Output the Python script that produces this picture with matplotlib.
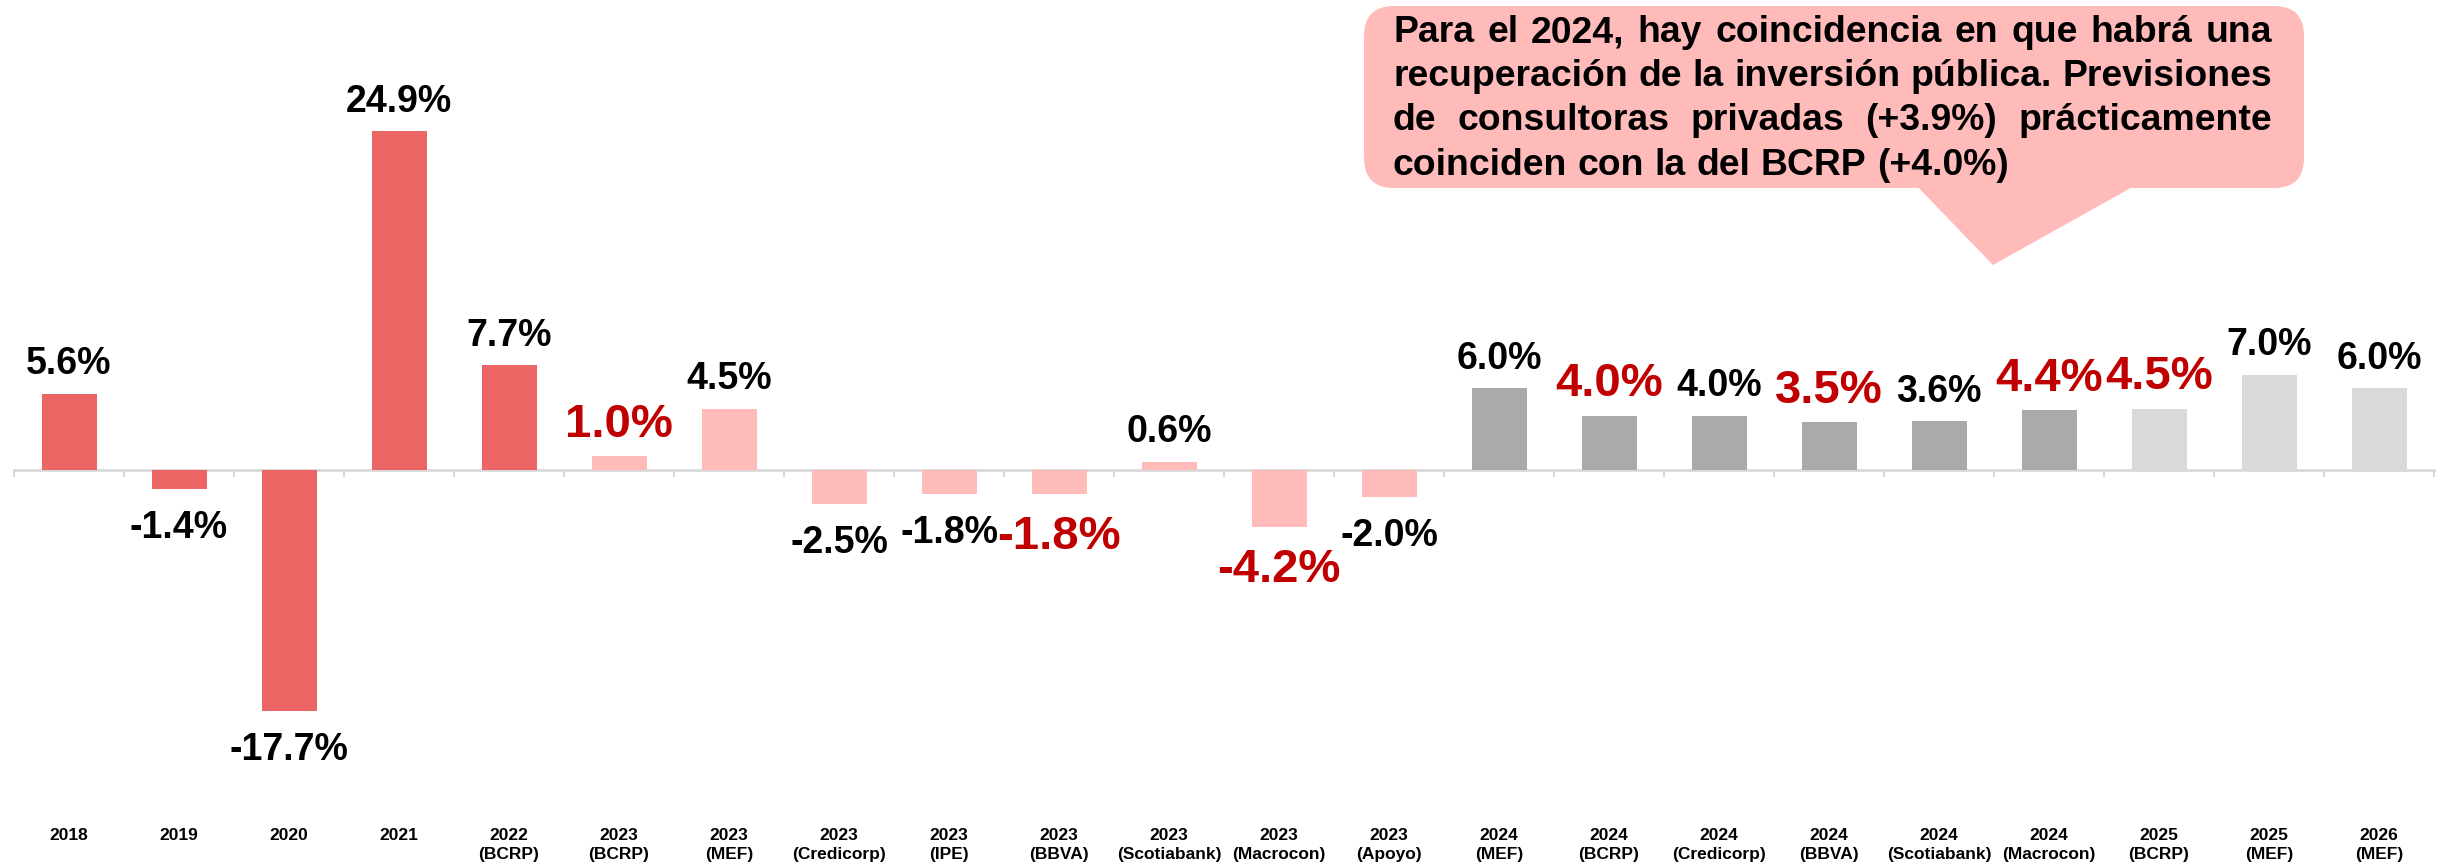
import matplotlib.pyplot as plt
from matplotlib.patches import FancyBboxPatch, Polygon
from matplotlib.transforms import blended_transform_factory

plt.rcParams['font.family'] = ['Liberation Sans', 'DejaVu Sans']
plt.rcParams['font.weight'] = 'bold'

# data
categories = ['2018', '2019', '2020', '2021', '2022\n(BCRP)',
              '2023\n(BCRP)', '2023\n(MEF)', '2023\n(Credicorp)', '2023\n(IPE)',
              '2023\n(BBVA)', '2023\n(Scotiabank)', '2023\n(Macrocon)', '2023\n(Apoyo)',
              '2024\n(MEF)', '2024\n(BCRP)', '2024\n(Credicorp)', '2024\n(BBVA)',
              '2024\n(Scotiabank)', '2024\n(Macrocon)',
              '2025\n(BCRP)', '2025\n(MEF)', '2026\n(MEF)']
values = [5.6, -1.4, -17.7, 24.9, 7.7,
          1.0, 4.5, -2.5, -1.8, -1.8, 0.6, -4.2, -2.0,
          6.0, 4.0, 4.0, 3.5, 3.6, 4.4,
          4.5, 7.0, 6.0]
groups = ['real'] * 5 + ['2023'] * 8 + ['2024'] * 6 + ['later'] * 3
highlighted = [5, 9, 11, 14, 16, 18, 19]   # labels shown in red

note_lines = ['Para el 2024, hay coincidencia en que habrá una',
              'recuperación de la inversión pública. Previsiones',
              'de consultoras privadas (+3.9%) prácticamente',
              'coinciden con la del BCRP (+4.0%)']

group_colors = {'real': '#EB6565', '2023': '#FFBABA', '2024': '#AAAAAA', 'later': '#D9D9D9'}

W, H = 2447, 866
fig = plt.figure(figsize=(W / 100, H / 100), dpi=100)

# axes placed so that zero sits at ~470px and 1% ~ 13.6px
ymin, ymax = -22, 30
zero_px, ppu = 470, 13.6
top_px = zero_px - ymax * ppu
bot_px = zero_px - ymin * ppu
ax = fig.add_axes([14 / W, 1 - bot_px / H, (2434 - 14) / W, (bot_px - top_px) / H])

x = list(range(len(values)))
ax.bar(x, values, width=0.5, color=[group_colors[g] for g in groups], zorder=3)
ax.set_xlim(-0.5, len(values) - 0.5)
ax.set_ylim(ymin, ymax)

for s in ['top', 'right', 'left']:
    ax.spines[s].set_visible(False)
ax.spines['bottom'].set_position(('data', 0))
ax.spines['bottom'].set_color('#D9D9D9')
ax.spines['bottom'].set_linewidth(2)
ax.set_yticks([])
ax.set_xticks([])
ax.set_xticks([i - 0.5 for i in range(len(values) + 1)], minor=True)
ax.tick_params(axis='x', which='minor', length=5, width=1.5, color='#D9D9D9', labelbottom=False)

for i, v in enumerate(values):
    red = i in highlighted
    size = 34 if red else 27
    col = '#C00000' if red else 'black'
    if v >= 0:
        ax.annotate(f'{v:.1f}%', (i, v), xytext=(0, 14), textcoords='offset points',
                    ha='center', va='baseline', fontsize=size, color=col, fontweight='bold')
    else:
        ax.annotate(f'{v:.1f}%', (i, v), xytext=(0, -15), textcoords='offset points',
                    ha='center', va='top', fontsize=size, color=col, fontweight='bold')

trans = blended_transform_factory(ax.transData, fig.transFigure)
for i, c in enumerate(categories):
    ax.text(i, 1 - 828 / H, c, transform=trans, ha='center', va='top',
            fontsize=12.5, linespacing=1.3, fontweight='bold')

# callout bubble (inches, 1in = 100px)
inch = fig.dpi_scale_trans
bx0, by0, bx1, by1 = 1364, 6, 2304, 188
box = FancyBboxPatch((bx0 / 100, (H - by1) / 100), (bx1 - bx0) / 100, (by1 - by0) / 100,
                     boxstyle='round,pad=0,rounding_size=0.3', transform=inch,
                     facecolor='#FFBABA', edgecolor='none')
fig.add_artist(box)
tail = Polygon([(1911 / 100, (H - 180) / 100), (2145 / 100, (H - 180) / 100),
                (1993 / 100, (H - 265) / 100)], closed=True, transform=inch,
               facecolor='#FFBABA', edgecolor='none')
fig.add_artist(tail)

# justified text inside the bubble; size chosen so line 2 fits naturally
renderer = fig.canvas.get_renderer()
tx0, tx1 = 1393, 2272
probe = fig.text(0, 0, note_lines[1], fontsize=20, fontweight='bold')
fs = 20 * (tx1 - tx0) / probe.get_window_extent(renderer).width
probe.remove()

baselines = [42, 86, 130, 175]
for n, line in enumerate(note_lines):
    words = line.split(' ')
    items = [fig.text(0, 0, w, transform=inch, fontsize=fs, fontweight='bold',
                      va='baseline', ha='left') for w in words]
    widths = [t.get_window_extent(renderer).width for t in items]
    if n < len(note_lines) - 1:
        gap = (tx1 - tx0 - sum(widths)) / (len(words) - 1)
    else:
        gap = 0.278 * fs * 100 / 72
    xp = tx0
    for t, w in zip(items, widths):
        t.set_position((xp / 100, (H - baselines[n]) / 100))
        xp += w + gap

fig.savefig('out.png', dpi=100)
